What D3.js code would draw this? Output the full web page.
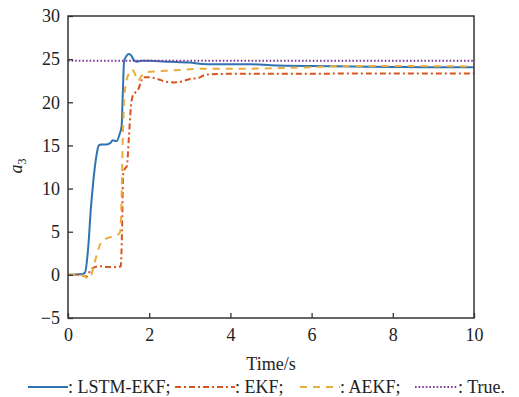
<!DOCTYPE html>
<html>
<head>
<meta charset="utf-8">
<script src="https://cdn.jsdelivr.net/npm/d3@7"></script>
<style>
	body { margin: 0; background: #fff; }
	svg text { font-family: 'Liberation Serif', 'Times New Roman', serif; fill: #222; }
</style>
</head>
<body>
<div id="graphic"></div>
<script>
// data
var xTicks = [0, 2, 4, 6, 8, 10];
var yTicks = [-5, 0, 5, 10, 15, 20, 25, 30];

var lstmT = [0, 0.2, 0.35, 0.42, 0.5, 0.56, 0.62, 0.7, 0.76, 0.82, 0.95, 1.05, 1.1, 1.2, 1.27, 1.32, 1.35, 1.38, 1.43, 1.5, 1.56, 1.62, 1.7, 1.8, 2.0, 2.5, 3.0, 3.3, 3.6, 4.5, 5, 6, 7, 8, 9, 10];
var lstmV = [0, 0.05, 0.1, 0.3, 3.3, 7.5, 10.7, 13.8, 15, 15.1, 15.1, 15.3, 15.6, 15.5, 16.3, 17.2, 21, 24.7, 25.3, 25.6, 25.4, 24.9, 24.7, 24.8, 24.8, 24.7, 24.6, 24.45, 24.4, 24.4, 24.3, 24.2, 24.15, 24.1, 24.05, 24.05];

var ekfT = [0, 0.3, 0.46, 0.55, 0.66, 0.8, 1.0, 1.2, 1.3, 1.33, 1.36, 1.4, 1.45, 1.5, 1.55, 1.59, 1.65, 1.73, 1.8, 1.85, 2.0, 2.2, 2.4, 2.6, 2.8, 3.0, 3.2, 3.4, 4.0, 5, 6, 7, 8, 10];
var ekfV = [0, 0, -0.2, 0.5, 0.9, 1.0, 0.9, 0.9, 1.0, 5, 11.8, 12.3, 12.6, 16, 19.5, 20.7, 21.1, 21.5, 22.4, 22.9, 22.9, 22.7, 22.4, 22.3, 22.4, 22.7, 22.8, 23.2, 23.3, 23.3, 23.3, 23.35, 23.35, 23.35];

var aekfT = [0, 0.3, 0.42, 0.5, 0.56, 0.62, 0.7, 0.79, 0.9, 0.99, 1.15, 1.28, 1.32, 1.35, 1.38, 1.42, 1.47, 1.52, 1.57, 1.63, 1.68, 1.73, 1.8, 1.94, 2.2, 2.6, 2.92, 3.5, 4.5, 5.5, 7, 8, 10];
var aekfV = [0, 0, -0.2, -0.4, -0.2, 0.8, 2.2, 3.5, 4.1, 4.3, 4.5, 4.9, 9, 16, 20, 22, 23, 23.5, 23.8, 23.5, 22.9, 22.5, 23, 23.5, 23.6, 23.7, 23.8, 23.9, 23.9, 24.0, 24.2, 24.2, 24.15];

var trueT = [0, 10];
var trueV = [24.8, 24.8];

var series = [
	{ name: 'LSTM-EKF', t: lstmT, v: lstmV, colour: '#2f73b4', dash: null },
	{ name: 'EKF', t: ekfT, v: ekfV, colour: '#d9541e', dash: '6,3,2,3' },
	{ name: 'AEKF', t: aekfT, v: aekfV, colour: '#e8ad3a', dash: '7,6' },
	{ name: 'True', t: trueT, v: trueV, colour: '#7e3a96', dash: '1.6,2' }
];
// legend sample start/end, from the picture
var legendSamples = [[28, 68], [175, 235], [300, 340], [415, 458]];

var font = "'Liberation Serif', 'Times New Roman', serif";
var margin = { top: 16, right: 45, bottom: 79, left: 68 };
var width = 519, height = 397;
var chart_width = width - margin.left - margin.right;
var chart_height = height - margin.top - margin.bottom;

var x = d3.scaleLinear().domain([0, 10]).range([0, chart_width]);
var y = d3.scaleLinear().domain([-5, 30]).range([chart_height, 0]);

var svg = d3.select('#graphic')
	.append('svg')
	.attr('width', width)
	.attr('height', height);

var g = svg.append('g')
	.attr('transform', 'translate(' + margin.left + ',' + margin.top + ')');

g.append('defs').append('clipPath')
	.attr('id', 'clip')
	.append('rect')
	.attr('width', chart_width)
	.attr('height', chart_height);

// lines
var line = d3.line()
	.x((d) => x(d[0]))
	.y((d) => y(d[1]))
	.curve(d3.curveMonotoneX);

series.forEach(function (s) {
	g.append('path')
		.datum(s.t.map((t, i) => [t, s.v[i]]))
		.attr('clip-path', 'url(#clip)')
		.attr('fill', 'none')
		.attr('stroke', s.colour)
		.attr('stroke-width', 2)
		.attr('stroke-dasharray', s.dash)
		.attr('d', line);
});

// axes, ticks pointing inwards
var xAxis = d3.axisBottom(x).tickValues(xTicks).tickSize(-5).tickPadding(10);
var yAxis = d3.axisLeft(y).tickValues(yTicks).tickSize(-5).tickPadding(8)
	.tickFormat((d) => (d < 0 ? '\u2212' + Math.abs(d) : d));

var gx = g.append('g')
	.attr('transform', 'translate(0,' + chart_height + ')')
	.call(xAxis);
var gy = g.append('g').call(yAxis);

[gx, gy].forEach(function (a) {
	a.attr('font-family', font).attr('font-size', 18);
	a.select('.domain').remove();
	a.selectAll('line').attr('stroke', '#333').attr('stroke-width', 1.3);
	a.selectAll('text').attr('fill', '#222');
});

// frame
g.append('rect')
	.attr('width', chart_width)
	.attr('height', chart_height)
	.attr('fill', 'none')
	.attr('stroke', '#333')
	.attr('stroke-width', 1.5);

// axis labels
g.append('text')
	.attr('x', chart_width / 2)
	.attr('y', chart_height + 52)
	.attr('text-anchor', 'middle')
	.attr('font-family', font)
	.attr('font-size', 18)
	.text('Time/s');

var yl = svg.append('text')
	.attr('transform', 'translate(22,166) rotate(-90)')
	.attr('text-anchor', 'middle')
	.attr('font-family', font)
	.attr('font-size', 18);
yl.append('tspan').style('font-style', 'italic').text('a');
yl.append('tspan').attr('dy', 4).attr('font-size', 12).text('3');

// legend
var legend = svg.append('g').attr('transform', 'translate(0,387)');
series.forEach(function (s, i) {
	var pos = legendSamples[i];
	legend.append('line')
		.attr('x1', pos[0])
		.attr('x2', pos[1])
		.attr('stroke', s.colour)
		.attr('stroke-width', 2)
		.attr('stroke-dasharray', s.dash);
	legend.append('text')
		.attr('x', pos[1])
		.attr('dy', '0.33em')
		.attr('font-family', font)
		.attr('font-size', 18)
		.text(': ' + s.name + (i < series.length - 1 ? ';' : '.'));
});
</script>
</body>
</html>
